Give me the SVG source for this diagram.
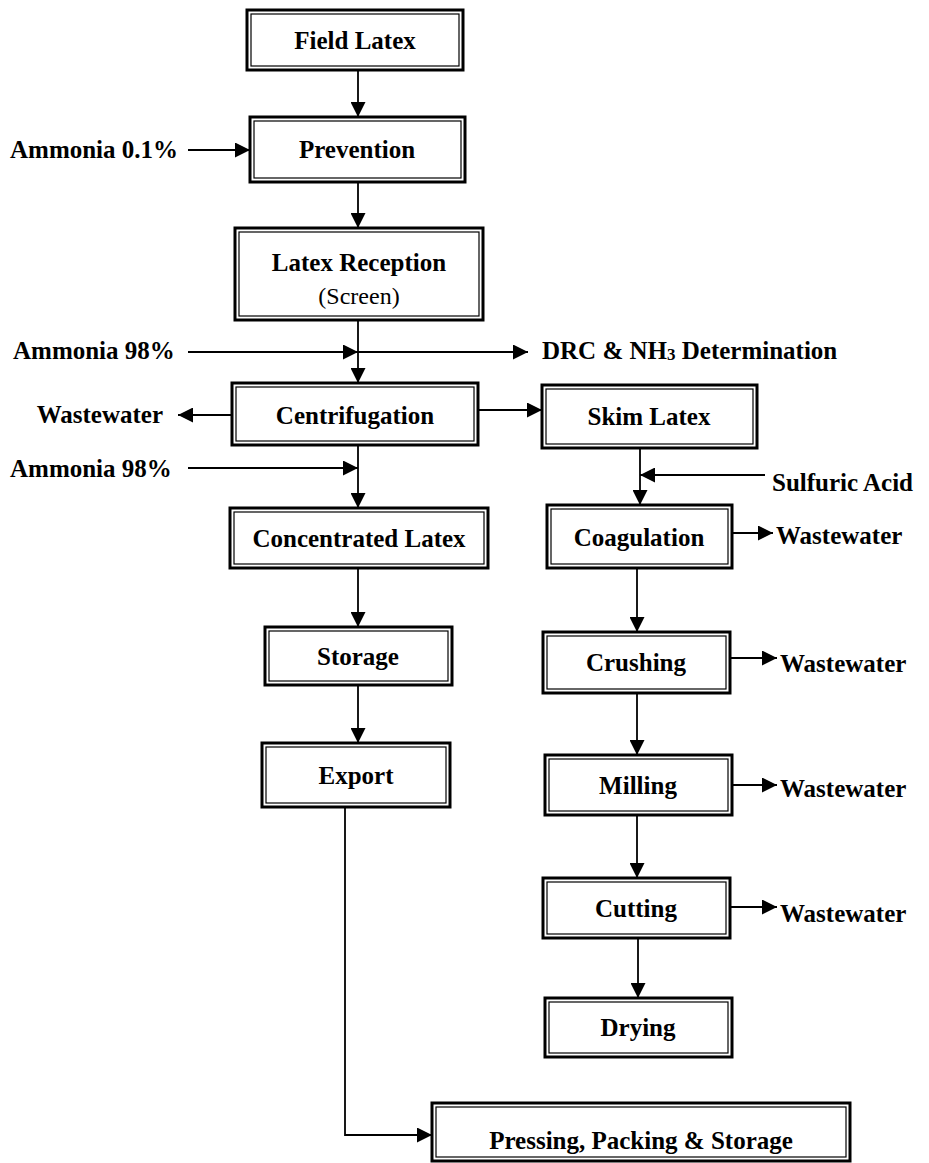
<svg xmlns="http://www.w3.org/2000/svg" width="929" height="1163" viewBox="0 0 929 1163">
<style>
.o{fill:#fff;stroke:#000;stroke-width:3}
.i{fill:none;stroke:#000;stroke-width:1.2}
.t{font-family:"Liberation Serif","Times New Roman",serif;font-weight:bold;font-size:25px;fill:#000}
.r{font-family:"Liberation Serif","Times New Roman",serif;font-size:24px;fill:#000}
.c{text-anchor:middle}
.e{fill:none;stroke:#000;stroke-width:1.8}
</style>
<defs>
<marker id="a" markerUnits="userSpaceOnUse" markerWidth="15" markerHeight="15" viewBox="0 0 15 15" refX="15" refY="7.5" orient="auto">
<path d="M0,0 L15,7.5 L0,15 Z" fill="#000"/>
</marker>
</defs>
<rect width="929" height="1163" fill="#fff"/>
<g id="connectors">
<line class="e" x1="358" y1="70" x2="358" y2="117" marker-end="url(#a)"/>
<line class="e" x1="188" y1="150" x2="250" y2="150" marker-end="url(#a)"/>
<line class="e" x1="358" y1="182" x2="358" y2="228" marker-end="url(#a)"/>
<line class="e" x1="358" y1="320" x2="358" y2="383" marker-end="url(#a)"/>
<line class="e" x1="188" y1="352" x2="358" y2="352" marker-end="url(#a)"/>
<line class="e" x1="358" y1="352" x2="528" y2="352" marker-end="url(#a)"/>
<line class="e" x1="232" y1="415" x2="178" y2="415" marker-end="url(#a)"/>
<line class="e" x1="478" y1="410" x2="542" y2="410" marker-end="url(#a)"/>
<line class="e" x1="358" y1="445" x2="358" y2="508" marker-end="url(#a)"/>
<line class="e" x1="188" y1="468" x2="358" y2="468" marker-end="url(#a)"/>
<line class="e" x1="358" y1="568" x2="358" y2="627" marker-end="url(#a)"/>
<line class="e" x1="358" y1="685" x2="358" y2="743" marker-end="url(#a)"/>
<path class="e" d="M345,807 L345,1135 L432,1135" marker-end="url(#a)"/>
<line class="e" x1="640" y1="448" x2="640" y2="505" marker-end="url(#a)"/>
<line class="e" x1="765" y1="475" x2="640" y2="475" marker-end="url(#a)"/>
<line class="e" x1="732" y1="533" x2="773" y2="533" marker-end="url(#a)"/>
<line class="e" x1="637" y1="568" x2="637" y2="632" marker-end="url(#a)"/>
<line class="e" x1="730" y1="658" x2="777" y2="658" marker-end="url(#a)"/>
<line class="e" x1="637" y1="693" x2="637" y2="755" marker-end="url(#a)"/>
<line class="e" x1="732" y1="785" x2="777" y2="785" marker-end="url(#a)"/>
<line class="e" x1="637" y1="815" x2="637" y2="878" marker-end="url(#a)"/>
<line class="e" x1="730" y1="907" x2="777" y2="907" marker-end="url(#a)"/>
<line class="e" x1="638" y1="938" x2="638" y2="998" marker-end="url(#a)"/>
</g>
<g id="labels">
<text class="t" x="10" y="158">Ammonia 0.1%</text>
<text class="t" x="13" y="359">Ammonia 98%</text>
<text class="t" x="10" y="477">Ammonia 98%</text>
<text class="t" x="163" y="423" text-anchor="end">Wastewater</text>
<text class="t" x="542" y="359">DRC &amp; NH<tspan font-size="17" dy="1">3</tspan><tspan dy="-1"> Determination</tspan></text>
<text class="t" x="772" y="491">Sulfuric Acid</text>
<text class="t" x="776" y="544">Wastewater</text>
<text class="t" x="780" y="672">Wastewater</text>
<text class="t" x="780" y="797">Wastewater</text>
<text class="t" x="780" y="922">Wastewater</text>
</g>
<g id="field-latex"><rect class="o" x="247" y="10" width="216" height="60"/><rect class="i" x="251" y="14" width="208" height="52"/><text class="t c" x="355" y="49">Field Latex</text></g>
<g id="prevention"><rect class="o" x="250" y="117" width="215" height="65"/><rect class="i" x="254" y="121" width="207" height="57"/><text class="t c" x="357" y="158">Prevention</text></g>
<g id="latex-reception"><rect class="o" x="235" y="228" width="248" height="92"/><rect class="i" x="239" y="232" width="240" height="84"/><text class="t c" x="359" y="271">Latex Reception</text><text class="r c" x="359" y="304">(Screen)</text></g>
<g id="centrifugation"><rect class="o" x="232" y="383" width="246" height="62"/><rect class="i" x="236" y="387" width="238" height="54"/><text class="t c" x="355" y="424">Centrifugation</text></g>
<g id="skim-latex"><rect class="o" x="542" y="385" width="215" height="63"/><rect class="i" x="546" y="389" width="207" height="55"/><text class="t c" x="649" y="425">Skim Latex</text></g>
<g id="concentrated-latex"><rect class="o" x="230" y="508" width="258" height="60"/><rect class="i" x="234" y="512" width="250" height="52"/><text class="t c" x="359" y="547">Concentrated Latex</text></g>
<g id="storage"><rect class="o" x="265" y="627" width="187" height="58"/><rect class="i" x="269" y="631" width="179" height="50"/><text class="t c" x="358" y="665">Storage</text></g>
<g id="export"><rect class="o" x="262" y="743" width="188" height="64"/><rect class="i" x="266" y="747" width="180" height="56"/><text class="t c" x="356" y="784">Export</text></g>
<g id="coagulation"><rect class="o" x="547" y="505" width="185" height="63"/><rect class="i" x="551" y="509" width="177" height="55"/><text class="t c" x="639" y="546">Coagulation</text></g>
<g id="crushing"><rect class="o" x="543" y="632" width="187" height="61"/><rect class="i" x="547" y="636" width="179" height="53"/><text class="t c" x="636" y="671">Crushing</text></g>
<g id="milling"><rect class="o" x="545" y="755" width="187" height="60"/><rect class="i" x="549" y="759" width="179" height="52"/><text class="t c" x="638" y="794">Milling</text></g>
<g id="cutting"><rect class="o" x="543" y="878" width="187" height="60"/><rect class="i" x="547" y="882" width="179" height="52"/><text class="t c" x="636" y="917">Cutting</text></g>
<g id="drying"><rect class="o" x="545" y="998" width="187" height="59"/><rect class="i" x="549" y="1002" width="179" height="51"/><text class="t c" x="638" y="1036">Drying</text></g>
<g id="pressing"><rect class="o" x="432" y="1103" width="418" height="58"/><rect class="i" x="436" y="1107" width="410" height="50"/><text class="t c" x="641" y="1149">Pressing, Packing &amp; Storage</text></g>
</svg>
